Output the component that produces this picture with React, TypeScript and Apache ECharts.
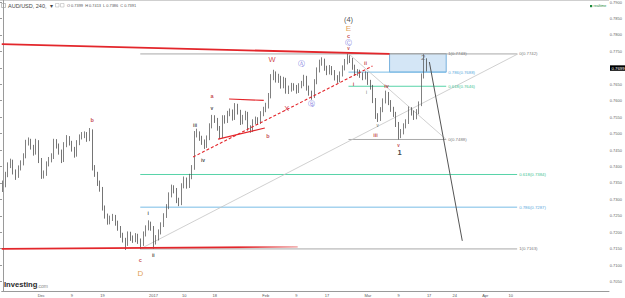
import React, { useEffect, useRef } from "react";
import * as echarts from "echarts";

// ---------- data ----------
const firstOpen = 0.734;
const closes = [
  0.7353, 0.7383, 0.7412, 0.7421, 0.7391, 0.738, 0.7403, 0.7418, 0.7439, 0.7478,
  0.7483, 0.7466, 0.7448, 0.7481, 0.7427, 0.738, 0.7386, 0.7415, 0.7427, 0.7436,
  0.7481, 0.7469, 0.7451, 0.7427, 0.7472, 0.7492, 0.7478, 0.746, 0.7442, 0.7478,
  0.7495, 0.7501, 0.7504, 0.7489, 0.7513, 0.7403, 0.7386, 0.7359, 0.7341, 0.7285,
  0.7261, 0.7243, 0.7252, 0.7258, 0.724, 0.7225, 0.7204, 0.719, 0.7178, 0.7207,
  0.7195, 0.719, 0.7201, 0.7187, 0.7178, 0.7207, 0.7225, 0.7237, 0.7225, 0.7184,
  0.7195, 0.7213, 0.7234, 0.7261, 0.7288, 0.7323, 0.7344, 0.7338, 0.7308, 0.7299,
  0.735, 0.7368, 0.735, 0.7377, 0.7403, 0.7504, 0.7504, 0.7492, 0.7481, 0.7469,
  0.7492, 0.7528, 0.7552, 0.7546, 0.7522, 0.7498, 0.7552, 0.7543, 0.7564, 0.757,
  0.7552, 0.7587, 0.757, 0.754, 0.7552, 0.7564, 0.7522, 0.7516, 0.754, 0.7546,
  0.754, 0.7564, 0.7576, 0.7587, 0.7617, 0.7671, 0.7682, 0.7665, 0.7671, 0.7647,
  0.7665, 0.7632, 0.7638, 0.7647, 0.7641, 0.7632, 0.7647, 0.7653, 0.7671, 0.7641,
  0.7626, 0.7617, 0.7659, 0.7694, 0.7715, 0.7721, 0.77, 0.7688, 0.77, 0.7688,
  0.7671, 0.7665, 0.7682, 0.77, 0.7718, 0.773, 0.7724, 0.7703, 0.7685, 0.7688,
  0.7679, 0.7673, 0.7682, 0.7659, 0.7644, 0.7605, 0.7558, 0.7549, 0.7576, 0.7602,
  0.7623, 0.7599, 0.7578, 0.7564, 0.7534, 0.7501, 0.751, 0.7528, 0.754, 0.7578,
  0.7567, 0.7555, 0.757, 0.7593, 0.7676, 0.7724, 0.7699,
];
const highs = [
  0.7366, 0.7392, 0.742, 0.7431, 0.7428, 0.7399, 0.7411, 0.7426, 0.7447, 0.7487,
  0.7494, 0.749, 0.7472, 0.749, 0.7486, 0.7433, 0.7396, 0.7423, 0.7436, 0.7447,
  0.749, 0.7489, 0.7476, 0.7458, 0.748, 0.7501, 0.7498, 0.7484, 0.7466, 0.7486,
  0.7503, 0.751, 0.7512, 0.751, 0.7522, 0.7518, 0.7412, 0.7392, 0.7366, 0.7347,
  0.7292, 0.7268, 0.7262, 0.7267, 0.7264, 0.7247, 0.7231, 0.7211, 0.7196, 0.7215,
  0.7214, 0.7203, 0.721, 0.7208, 0.7194, 0.7215, 0.7233, 0.7248, 0.7244, 0.7231,
  0.7204, 0.7221, 0.7242, 0.7269, 0.7296, 0.7331, 0.7354, 0.7352, 0.7344, 0.7315,
  0.7358, 0.7378, 0.7375, 0.7386, 0.7412, 0.7513, 0.752, 0.7512, 0.7499, 0.7488,
  0.75, 0.7536, 0.7561, 0.756, 0.7552, 0.7528, 0.756, 0.756, 0.7573, 0.758,
  0.7577, 0.7596, 0.7594, 0.7576, 0.7561, 0.7573, 0.757, 0.753, 0.7548, 0.7556,
  0.7554, 0.7572, 0.7585, 0.7597, 0.7626, 0.7682, 0.7695, 0.769, 0.7683, 0.7677,
  0.7674, 0.7671, 0.7648, 0.7656, 0.7655, 0.765, 0.7655, 0.7662, 0.768, 0.7677,
  0.7648, 0.7633, 0.7667, 0.7702, 0.7725, 0.7732, 0.7728, 0.7707, 0.7709, 0.7706,
  0.7694, 0.7679, 0.769, 0.7708, 0.7727, 0.7743, 0.7738, 0.773, 0.771, 0.7697,
  0.7695, 0.7687, 0.769, 0.7688, 0.7665, 0.765, 0.7611, 0.7566, 0.7584, 0.761,
  0.7633, 0.7629, 0.7605, 0.7585, 0.757, 0.754, 0.7519, 0.7536, 0.7548, 0.7586,
  0.7584, 0.7574, 0.7578, 0.7601, 0.7684, 0.7741, 0.7729,
];
const lows = [
  0.7332, 0.7346, 0.7376, 0.7403, 0.7384, 0.7368, 0.7374, 0.7396, 0.7411, 0.7432,
  0.747, 0.7458, 0.744, 0.7443, 0.7418, 0.7371, 0.7372, 0.738, 0.7408, 0.742,
  0.743, 0.7461, 0.7443, 0.7418, 0.7421, 0.7465, 0.747, 0.7452, 0.7434, 0.7437,
  0.7471, 0.7488, 0.7492, 0.7481, 0.7483, 0.7396, 0.7377, 0.735, 0.7333, 0.7277,
  0.7253, 0.7235, 0.7236, 0.7246, 0.7232, 0.7217, 0.7196, 0.7182, 0.716, 0.7172,
  0.7187, 0.7181, 0.7183, 0.7178, 0.7163, 0.7172, 0.72, 0.7218, 0.7217, 0.7164,
  0.7176, 0.7188, 0.7206, 0.7228, 0.7255, 0.7281, 0.7316, 0.7328, 0.7299, 0.729,
  0.7293, 0.7343, 0.7342, 0.7344, 0.737, 0.7398, 0.7494, 0.7484, 0.7472, 0.746,
  0.7463, 0.7486, 0.7521, 0.7537, 0.7514, 0.7489, 0.7492, 0.7535, 0.7537, 0.7557,
  0.7544, 0.7546, 0.7562, 0.7531, 0.7533, 0.7545, 0.7514, 0.7508, 0.751, 0.7533,
  0.7531, 0.7534, 0.7557, 0.7569, 0.758, 0.761, 0.7664, 0.7657, 0.7656, 0.7639,
  0.764, 0.7624, 0.7623, 0.763, 0.7633, 0.7624, 0.7626, 0.764, 0.7646, 0.7633,
  0.7618, 0.7606, 0.7611, 0.7652, 0.7687, 0.7707, 0.7692, 0.7679, 0.7681, 0.7679,
  0.7663, 0.7656, 0.7658, 0.7675, 0.7693, 0.7711, 0.7715, 0.7695, 0.7677, 0.7677,
  0.7671, 0.7664, 0.7666, 0.765, 0.7636, 0.7596, 0.7549, 0.754, 0.7543, 0.7569,
  0.7595, 0.759, 0.757, 0.7555, 0.7525, 0.7488, 0.7492, 0.7503, 0.7521, 0.7534,
  0.7559, 0.7546, 0.7548, 0.7563, 0.7587, 0.7669, 0.769,
];
const lastPrice = 0.7699;
const categoryCount = 238;
const xTickLabels: [number, string][] = [
  [15, "Dec"], [27, "9"], [39, "19"], [59, "2017"], [71, "10"], [83, "18"],
  [103, "Feb"], [115, "9"], [127, "17"], [143, "Mar"], [155, "9"], [167, "17"],
  [177, "24"], [189, "Apr"], [199, "10"],
];
const yViewMin = 0.70381;
const yViewMax = 0.79021;
const yTickMin = 0.7;
const yTickMax = 0.79;
const yTickStep = 0.005;

// drawings (bar index, price)
const fibBigRange = [53.8, 201.5];
const fibBigLevels: [string, number][] = [["0", 0.7742], ["0.618", 0.7384], ["0.786", 0.7287], ["1", 0.7163]];
const fibBigDiag = [[53.8, 0.7163], [201.8, 0.7742]];
const fibSmallRange = [135.4, 173.7];
const fibSmallLevels: [string, number][] = [["1", 0.7743], ["0.786", 0.7688], ["0.618", 0.7646], ["0", 0.7488]];
const fibSmallDiag = [[135.4, 0.7743], [173.7, 0.7488]];
const targetBox = [[151.5, 0.7743], [173.7, 0.7688]];
const resistanceLine = [[-0.5, 0.7771], [151.5, 0.7742]];
const supportLine = [[-0.5, 0.7163], [115.5, 0.7169]];
const dashedTrend = [[74.5, 0.7436], [144.8, 0.7706]];
const triangleUpper = [[88.6, 0.7608], [102.2, 0.7604]];
const triangleLower = [[84.3, 0.7489], [102.6, 0.7522]];
const projectionLine = [[167.1, 0.7718], [180.0, 0.7187]];

const waveLabels: [string, number, number, string][] = [
  ["(4)", 135.4, 0.7843, "big"],
  ["E", 135.4, 0.7816, "orange"],
  ["c", 135.4, 0.7795, "red"],
  ["Ⓒ", 135.4, 0.7774, "blue"],
  ["v", 135.4, 0.7757, "redTiny"],
  ["W", 105.4, 0.7724, "redBig"],
  ["Ⓐ", 117.1, 0.7712, "blue"],
  ["Ⓑ", 121.0, 0.7593, "blue"],
  ["X", 111.2, 0.7581, "redBig"],
  ["a", 81.9, 0.7617, "red"],
  ["v", 81.9, 0.7581, "black"],
  ["iii", 75.3, 0.7531, "black"],
  ["b", 103.8, 0.7498, "red"],
  ["b", 35.0, 0.7546, "red"],
  ["iv", 78.4, 0.7427, "black"],
  ["i", 56.9, 0.727, "black"],
  ["ii", 58.9, 0.7145, "black"],
  ["c", 53.8, 0.713, "red"],
  ["D", 53.8, 0.7089, "orange"],
  ["a", -0.6, 0.7273, "red"],
  ["ii", 142.1, 0.7715, "red"],
  ["i", 137.4, 0.7653, "red"],
  ["iv", 150.3, 0.7647, "red"],
  ["i", 142.5, 0.7626, "blackTiny"],
  ["v", 146.8, 0.7528, "blackTiny"],
  ["iii", 146.0, 0.7501, "red"],
  ["v", 155.0, 0.7469, "redTiny"],
  ["1", 155.4, 0.7448, "one"],
  ["2", 164.7, 0.773, "two"],
];

const labelStyles: Record<string, any> = {
  big: { color: "#222", fontSize: 7.5 },
  orange: { color: "#d8861e", fontSize: 8 },
  red: { color: "#b5121b", fontSize: 5.5, fontWeight: "bold" },
  redTiny: { color: "#b5121b", fontSize: 4.5, fontWeight: "bold" },
  redBig: { color: "#c8161e", fontSize: 7.5 },
  blue: { color: "#5b5bd8", fontSize: 6.5, fontFamily: "DejaVu Sans" },
  black: { color: "#222", fontSize: 5, fontWeight: "bold" },
  blackTiny: { color: "#333", fontSize: 4.5 },
  one: { color: "#111", fontSize: 7.5, fontWeight: "bold" },
  two: { color: "#666", fontSize: 8 },
};

const fibColor = (lvl: string) =>
  lvl === "0.618" ? "#58d3a8" : lvl === "0.786" ? "#79bde6" : "#a9a9a9";

export default function App() {
  const ref = useRef<HTMLDivElement>(null);
  useEffect(() => {
    if (!ref.current) return;
    const chart = echarts.init(ref.current, undefined, { renderer: "svg" });
    const categories = Array.from({ length: categoryCount }, (_, i) => "c" + i);
    const tickMap: Record<number, string> = {};
    xTickLabels.forEach(([i, t]) => (tickMap[i] = t));
    const opens = closes.map((c, i) => (i === 0 ? firstOpen : closes[i - 1]));
    const candleData = closes.map((c, i) => [opens[i], c, lows[i], highs[i]]);

    const seg = (pts: number[][], color: any, width: number, type: any = "solid", z = 1) => ({
      type: "line",
      xAxisIndex: 1,
      yAxisIndex: 0,
      data: pts,
      symbol: "none",
      silent: true,
      z,
      lineStyle: { color, width, type },
    });

    const fibSeries = (range: number[], levels: [string, number][]) =>
      levels.map(([lvl, p]) => ({
        ...seg([[range[0], p], [range[1], p]], fibColor(lvl), 1, "solid", 1),
        endLabel: {
          show: true,
          formatter: `${lvl}(${p.toFixed(4)})`,
          color: lvl === "0.618" ? "#3fc494" : lvl === "0.786" ? "#5aa9dc" : "#7a7a7a",
          fontSize: 4.3,
          distance: 2,
          fontFamily: "Liberation Sans",
        },
      }));

    const supportGradient = new echarts.graphic.LinearGradient(0, 0, 1, 0, [
      { offset: 0, color: "#e3262b" },
      { offset: 0.8, color: "#e3262b" },
      { offset: 1, color: "#f3b5b5" },
    ]);

    const option: any = {
      animation: false,
      textStyle: { fontFamily: "Liberation Sans, Arial, sans-serif" },
      grid: [
        { left: 0, right: 16, top: 0, height: 291 },
        { left: 0, right: 16, top: 0.7, height: 303.1 },
      ],
      xAxis: [
        {
          type: "category",
          gridIndex: 0,
          data: categories,
          boundaryGap: true,
          axisLine: { show: true, lineStyle: { color: "#9a9a9a", width: 1 } },
          axisTick: { show: false },
          splitLine: { show: false },
          axisLabel: {
            interval: 0,
            formatter: (_v: string, i: number) => tickMap[i] || "",
            fontSize: 4,
            color: "#555",
            margin: 2,
          },
        },
        { type: "value", gridIndex: 0, min: -0.5, max: categoryCount - 0.5, show: false },
        { type: "value", gridIndex: 1, min: 0, max: 1, show: false },
      ],
      yAxis: [
        {
          type: "value",
          gridIndex: 0,
          position: "right",
          min: yViewMin,
          max: yViewMax,
          axisLine: { show: true, lineStyle: { color: "#9a9a9a", width: 1 } },
          axisTick: { show: false },
          axisLabel: { show: false },
          splitLine: { show: false },
        },
        {
          type: "value",
          gridIndex: 1,
          position: "right",
          min: yTickMin,
          max: yTickMax,
          interval: yTickStep,
          axisLine: { show: false },
          axisTick: { show: true, length: 2, inside: false, lineStyle: { color: "#999" } },
          splitLine: { show: false },
          axisLabel: {
            fontSize: 4,
            color: "#666",
            margin: 2,
            showMaxLabel: true,
            showMinLabel: false,
            formatter: (v: number) =>
              Math.abs(v - lastPrice) < 0.0015 || v < 0.7049 ? "" : v.toFixed(4),
          },
        },
      ],
      graphic: [
        { type: "line", shape: { x1: 0, y1: 0.5, x2: 609, y2: 0.5 }, style: { stroke: "#cfcfcf", lineWidth: 1 }, silent: true },
        { type: "rect", shape: { x: 1.5, y: 3.5, width: 4, height: 4 }, style: { fill: "none", stroke: "#999", lineWidth: 0.6 } },
        { type: "text", x: 8, y: 2.5, style: { text: "AUD/USD, 240,  ▾", fontSize: 5.5, fill: "#444", fontFamily: "Liberation Sans" } },
        { type: "rect", shape: { x: 55.5, y: 3.5, width: 3.5, height: 3.5 }, style: { fill: "none", stroke: "#aaa", lineWidth: 0.5 } },
        { type: "rect", shape: { x: 60.5, y: 3.5, width: 3.5, height: 3.5 }, style: { fill: "none", stroke: "#aaa", lineWidth: 0.5 } },
        { type: "text", x: 67, y: 3.3, style: { text: "O 0.7399  H 0.7413  L 0.7386  C 0.7391", fontSize: 3.9, fill: "#555", fontFamily: "Liberation Sans" } },
        { type: "rect", shape: { x: 590, y: 5, width: 2.2, height: 2.2 }, style: { fill: "#1d8a3e" } },
        { type: "text", x: 593.5, y: 4.3, style: { text: "realtime", fontSize: 3.6, fill: "#1d8a3e", fontFamily: "Liberation Sans" } },
        { type: "text", x: 4, y: 280.5, style: { text: "Investing", fontSize: 7.6, fontWeight: "bold", fill: "#2a2a2a", fontFamily: "Liberation Sans" } },
        { type: "text", x: 37, y: 283, style: { text: ".com", fontSize: 5, fill: "#8a8a8a", fontFamily: "Liberation Sans" } },
      ],
      series: [
        ...fibSeries(fibBigRange, fibBigLevels),
        ...fibSeries(fibSmallRange, fibSmallLevels),
        seg(fibBigDiag, "#c4c4c4", 0.8),
        {
          ...seg(fibSmallDiag, "#c4c4c4", 0.8),
          markArea: {
            silent: true,
            itemStyle: { color: "rgba(176,210,238,0.55)", borderColor: "#5a9fd6", borderWidth: 0.8 },
            data: [[{ coord: targetBox[0] }, { coord: targetBox[1] }]],
          },
        },
        {
          type: "candlestick",
          xAxisIndex: 0,
          yAxisIndex: 0,
          data: candleData,
          barMaxWidth: 2.1,
          z: 3,
          silent: true,
          itemStyle: {
            color: "#a8a8a8",
            color0: "#3f3f3f",
            borderColor: "#4a4a4a",
            borderColor0: "#3a3a3a",
            borderWidth: 0.7,
          },
          markLine: {
            silent: true,
            symbol: ["none", "none"],
            lineStyle: { color: "rgba(0,0,0,0)", width: 0 },
            label: {
              position: "end",
              formatter: lastPrice.toFixed(4),
              backgroundColor: "#000",
              color: "#fff",
              fontSize: 4.3,
              padding: [1, 1.5, 0.5, 1.5],
              distance: 1,
            },
            data: [{ yAxis: lastPrice }],
          },
        },
        seg(resistanceLine, "#e3262b", 1.8, "solid", 4),
        seg(supportLine, supportGradient, 1.8, "solid", 4),
        seg(dashedTrend, "#e3262b", 1.1, [3, 2], 4),
        seg(triangleUpper, "#e3262b", 1.1, "solid", 4),
        seg(triangleLower, "#e3262b", 1.1, "solid", 4),
        seg(projectionLine, "#555", 1, "solid", 4),
        {
          type: "scatter",
          xAxisIndex: 1,
          yAxisIndex: 0,
          symbolSize: 0,
          silent: true,
          z: 6,
          data: waveLabels.map(([t, x, p, kind]) => ({
            value: [x, p],
            label: {
              show: true,
              position: "inside",
              formatter: t,
              fontFamily: "Liberation Sans",
              ...labelStyles[kind],
            },
          })),
        },
      ],
    };
    chart.setOption(option);
    return () => chart.dispose();
  }, []);
  return (
    <div
      ref={ref}
      style={{ position: "fixed", left: 0, top: 0, width: 625, height: 298, background: "#fff" }}
    />
  );
}
